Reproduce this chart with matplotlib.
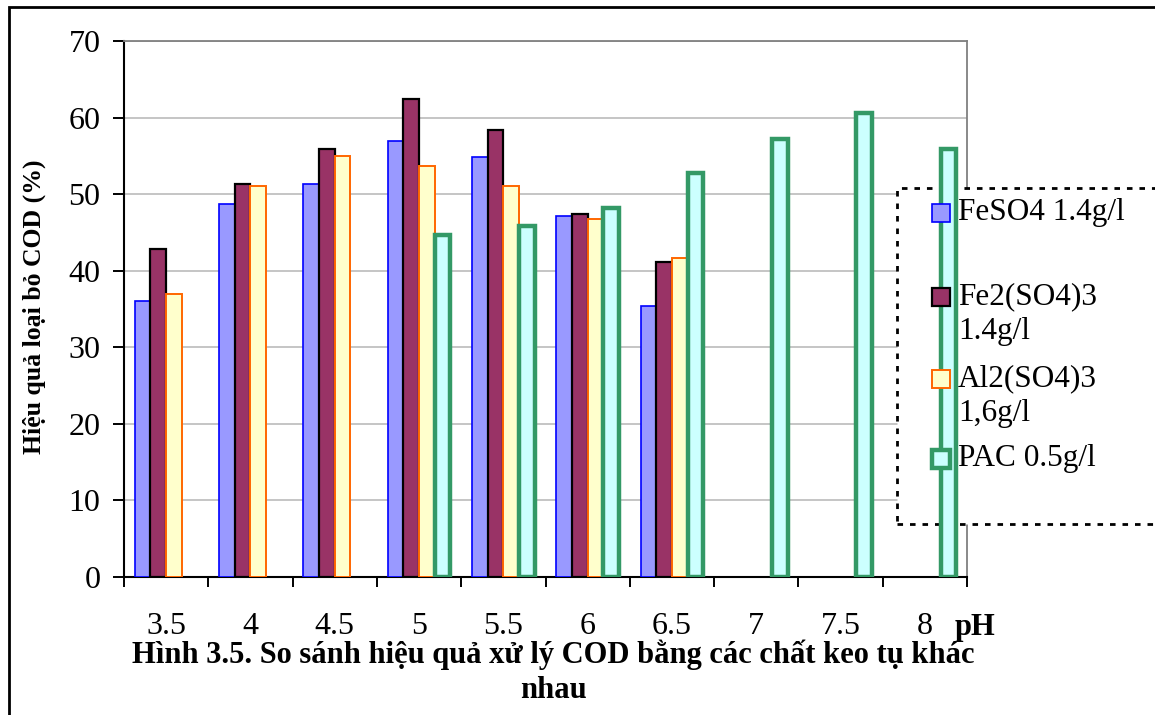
import numpy as np
import matplotlib
matplotlib.use('Agg')
import matplotlib.pyplot as plt
from matplotlib.patches import Rectangle

plt.rcParams['font.family'] = ['Liberation Serif', 'DejaVu Serif']

# pH values and COD removal (%) for each coagulant
ph_labels = ['3.5', '4', '4.5', '5', '5.5', '6', '6.5', '7', '7.5', '8']
nan = np.nan
feso4 = [36.0, 48.7, 51.3, 57.0, 54.9, 47.1, 35.4, nan, nan, nan]
fe2so43 = [42.9, 51.3, 55.9, 62.4, 58.4, 47.4, 41.1, nan, nan, nan]
al2so43 = [37.0, 51.1, 55.0, 53.7, 51.0, 46.7, 41.6, nan, nan, nan]
pac = [nan, nan, nan, 44.6, 45.8, 48.2, 52.8, 57.2, 60.6, 55.9]

series = [feso4, fe2so43, al2so43, pac]
labels = ['FeSO4 1.4g/l', 'Fe2(SO4)3\n1.4g/l', 'Al2(SO4)3\n1,6g/l', 'PAC 0.5g/l']
faces = ['#9999FF', '#993366', '#FFFFCC', '#CCFFFF']
edges = ['#0000FF', '#000000', '#FF6600', '#339966']
lws = [1.2, 1.6, 1.4, 3.2]

fig = plt.figure(figsize=(11.55, 7.15), dpi=100)
ax = fig.add_axes([124/1155, 1 - 577/715, 843/1155, 536/715])

x = np.arange(len(ph_labels))
w = 0.186
for i, vals in enumerate(series):
    ax.bar(x + (i - 1.5) * w, vals, width=w, color=faces[i], edgecolor=edges[i],
           linewidth=lws[i], zorder=3)

ax.set_xlim(-0.5, len(ph_labels) - 0.5)
ax.set_ylim(0, 70)
ax.set_yticks(range(0, 71, 10))
ax.yaxis.grid(True, color='#C0C0C0', linewidth=1.3, zorder=0)
ax.set_axisbelow(True)

# category boundaries get the ticks, centres get the labels
ax.set_xticks(np.arange(-0.5, len(ph_labels)), [])
ax.set_xticks(x, ph_labels, minor=True)
ax.tick_params(axis='x', which='major', length=7, width=1.4, direction='out')
ax.tick_params(axis='x', which='minor', length=0, pad=25, labelsize=23)
ax.tick_params(axis='y', length=8, width=1.4, pad=9, labelsize=23)

for s in ['left', 'bottom']:
    ax.spines[s].set_linewidth(1.5)
    ax.spines[s].set_color('black')
for s in ['top', 'right']:
    ax.spines[s].set_linewidth(1.3)
    ax.spines[s].set_color('#808080')

ax.set_ylabel('Hiệu quả loại bỏ COD (%)', fontsize=18.5, fontweight='bold')
ax.yaxis.set_label_coords(-0.093, 0.504)

fig.text(975/1155, 1 - 628/715, 'pH', fontsize=22, fontweight='bold',
         ha='center', va='center')
fig.text(553/1155, 1 - 655/715,
         'Hình 3.5. So sánh hiệu quả xử lý COD bằng các chất keo tụ khác',
         fontsize=22, fontweight='bold', ha='center', va='center')
fig.text(553/1155, 1 - 690/715, 'nhau', fontsize=22, fontweight='bold',
         ha='center', va='center')

# legend box with dotted frame, sitting under the bars
lx0 = (897 - 124) / 843
ly0 = (577 - 524) / 536
ly1 = (577 - 188) / 536
ax.add_patch(Rectangle((lx0, ly0), 0.4, ly1 - ly0, transform=ax.transAxes,
                       facecolor='white', edgecolor='black', linewidth=2,
                       linestyle=(0, (2, 2.5)), clip_on=False, zorder=2.6))
mk_y = [213, 297, 379, 459]
for i, lab in enumerate(labels):
    cx = (941 - 124) / 843
    cy = (577 - mk_y[i]) / 536
    ax.add_patch(Rectangle((cx - 9 / 843, cy - 9 / 536), 18 / 843, 18 / 536,
                           transform=ax.transAxes, facecolor=faces[i],
                           edgecolor=edges[i], linewidth=lws[i],
                           clip_on=False, zorder=4))
    ax.text((958 - 124) / 843, cy + 15 / 536, lab, transform=ax.transAxes,
            fontsize=22.5, ha='left', va='top', linespacing=1.25, zorder=5)

# outer chart frame
fig.add_artist(Rectangle((9 / 1155, -0.2), 1.2, 1.2 - 7 / 715,
                         transform=fig.transFigure, fill=False,
                         edgecolor='black', linewidth=2))

fig.savefig('out.png', dpi=100)
